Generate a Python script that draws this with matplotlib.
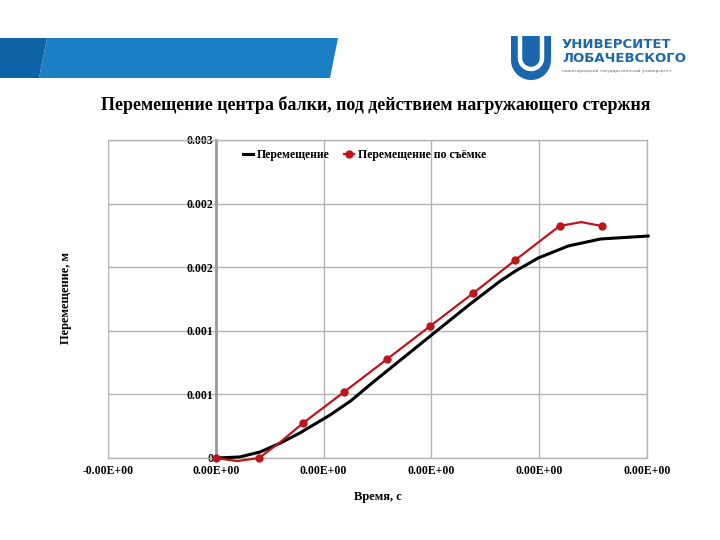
import matplotlib
matplotlib.use("Agg")
import matplotlib.pyplot as plt
import numpy as np
from matplotlib.patches import Polygon
from matplotlib.ticker import FixedLocator, FixedFormatter

# ---------------------------------------------------------------
# Data
# ---------------------------------------------------------------
TITLE = "Перемещение центра балки, под действием нагружающего стержня"

# calculated displacement (black)
calc_t = [0, 0.22, 0.41, 0.60, 0.78, 1.06, 1.25, 1.46, 1.99, 2.36, 2.64, 2.78, 2.99, 3.27, 3.57, 4.01]
calc_y = [0, 0.0000079, 0.0000472, 0.000118, 0.000197, 0.000338, 0.000448, 0.000597,
          0.000959, 0.001211, 0.001392, 0.00147, 0.001572, 0.001667, 0.001722, 0.001745]

# measured displacement (red markers)
meas_t = [0, 0.40, 0.81, 1.19, 1.59, 1.99, 2.39, 2.78, 3.19, 3.58]
meas_y = [0, 0, 0.000275, 0.000519, 0.000778, 0.001038, 0.001297, 0.001557, 0.001824, 0.001824]

# smoothed trace of the measured line (as drawn in the picture)
meas_line_t = [0, 0.20, 0.40, 0.60, 0.81, 1.19, 1.59, 1.99, 2.39, 2.78, 3.02, 3.19, 3.39, 3.58]
meas_line_y = [0, -0.000024, 0, 0.000126, 0.000275, 0.000519, 0.000778, 0.001038,
               0.001297, 0.001557, 0.001714, 0.001824, 0.001855, 0.001824]

x_ticks = [-1, 0, 1, 2, 3, 4]
x_labels = ["-0.00E+00", "0.00E+00", "0.00E+00", "0.00E+00", "0.00E+00", "0.00E+00"]
y_ticks = [0, 0.0005, 0.001, 0.0015, 0.002, 0.0025]
y_labels = ["0", "0.001", "0.001", "0.002", "0.002", "0.003"]

SERIF = "Liberation Serif"
RED = "#c0141c"
GRID = "#b4b4b4"

# ---------------------------------------------------------------
fig = plt.figure(figsize=(7.2, 5.4), dpi=100)

# background decoration layer in pixel coordinates
bg = fig.add_axes([0, 0, 1, 1], zorder=0)
bg.set_xlim(0, 720)
bg.set_ylim(540, 0)
bg.axis("off")

bg.add_patch(Polygon([(0, 38), (47, 38), (39, 78), (0, 78)], closed=True, color="#0d63a6", lw=0))
bg.add_patch(Polygon([(47, 38), (338, 38), (330, 78), (39, 78)], closed=True, color="#1a80c3", lw=0))

# logo shield
th = np.linspace(np.pi, 2 * np.pi, 30)
sx = list(531 + 20 * np.cos(th))
sy = list(60 - 20 * np.sin(th))
shield = [(511, 36), (551, 36)] + list(zip(sx[::-1], sy[::-1]))
bg.add_patch(Polygon(shield, closed=True, color="#1a67ad", lw=0))
ux = list(531 + 11 * np.cos(th))
uy = list(58 - 11 * np.sin(th))
bg.plot([520] + ux + [542], [36] + uy + [36], color="white", lw=3.2, solid_capstyle="butt")

fig.text(562 / 720, 1 - 45 / 540, "УНИВЕРСИТЕТ", fontsize=9.5, fontweight="bold",
         color="#1a67ad", va="center", ha="left", family="DejaVu Sans")
fig.text(562 / 720, 1 - 59 / 540, "ЛОБАЧЕВСКОГО", fontsize=9.5, fontweight="bold",
         color="#1a67ad", va="center", ha="left", family="DejaVu Sans")
fig.text(562 / 720, 1 - 71 / 540, "нижегородский государственный университет", fontsize=3.2,
         color="#666666", va="center", ha="left")

fig.text(376 / 720, 1 - 105 / 540, TITLE, fontsize=13, fontweight="bold",
         family=SERIF, ha="center", va="center")

# ---------------------------------------------------------------
ax = fig.add_axes([108 / 720, 1 - 458 / 540, (647 - 108) / 720, (458 - 140) / 540], zorder=1)
ax.set_facecolor("none")

ax.plot(calc_t, calc_y, color="black", lw=2.2, label="Перемещение", zorder=3, clip_on=False)
ax.plot(meas_line_t, meas_line_y, color=RED, lw=1.6, zorder=4, clip_on=False)
ax.plot(meas_t, meas_y, color=RED, lw=0, marker="o", ms=5, zorder=5, clip_on=False)
ax.plot([], [], color=RED, lw=1.6, marker="o", ms=5, label="Перемещение по съёмке")

ax.set_xlim(-1, 4)
ax.set_ylim(0, 0.0025)

ax.xaxis.set_major_locator(FixedLocator(x_ticks))
ax.xaxis.set_major_formatter(FixedFormatter(x_labels))
ax.yaxis.set_major_locator(FixedLocator(y_ticks))
ax.yaxis.set_major_formatter(FixedFormatter(y_labels))

ax.grid(True, color=GRID, lw=1.0, zorder=0)
ax.set_axisbelow(True)
for s in ["top", "right", "bottom"]:
    ax.spines[s].set_color(GRID)
    ax.spines[s].set_linewidth(1.0)
ax.spines["left"].set_position(("data", 0))
ax.spines["left"].set_color("#9a9a9a")
ax.spines["left"].set_linewidth(2.0)
ax.tick_params(length=0)
ax.tick_params(axis="y", pad=2)
ax.tick_params(axis="x", pad=5)
for lab in ax.get_xticklabels() + ax.get_yticklabels():
    lab.set_family(SERIF)
    lab.set_fontweight("bold")
    lab.set_fontsize(8.5)

ax.set_xlabel("Время, с", family=SERIF, fontweight="bold", fontsize=9, labelpad=10)
fig.text(66 / 720, 1 - 298 / 540, "Перемещение, м", rotation=90, family=SERIF,
         fontweight="bold", fontsize=9, ha="center", va="center")

leg = ax.legend(loc="upper left", bbox_to_anchor=(0.23, 1.005), ncol=2, frameon=False,
                prop={"family": SERIF, "weight": "bold", "size": 8.5},
                handlelength=0.9, handletextpad=0.3, columnspacing=1.2)

fig.savefig("out.png", dpi=100)
